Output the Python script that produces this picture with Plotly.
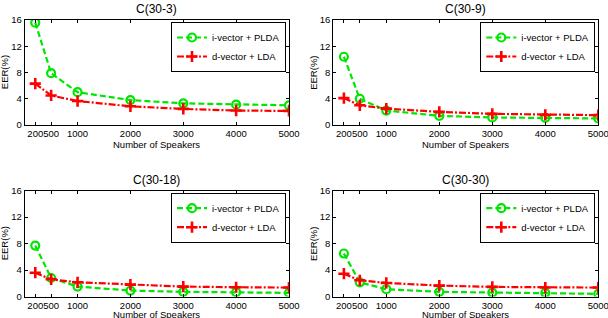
import plotly.graph_objects as go

speakers = [200, 500, 1000, 2000, 3000, 4000, 5000]
titles = ["C(30-3)", "C(30-9)", "C(30-18)", "C(30-30)"]
ivec = [
    [15.6, 7.9, 5.0, 3.8, 3.3, 3.1, 3.0],
    [10.4, 4.0, 2.2, 1.4, 1.15, 1.1, 1.0],
    [7.7, 2.8, 1.5, 0.9, 0.7, 0.65, 0.55],
    [6.5, 2.15, 1.1, 0.7, 0.6, 0.55, 0.4],
]
dvec = [
    [6.3, 4.5, 3.65, 2.85, 2.45, 2.2, 2.15],
    [4.1, 3.0, 2.5, 2.0, 1.7, 1.55, 1.5],
    [3.6, 2.6, 2.15, 1.8, 1.5, 1.4, 1.35],
    [3.45, 2.45, 2.05, 1.65, 1.45, 1.35, 1.35],
]
yticks = [0, 4, 8, 12, 16]
xticklabels = ["200", "500", "1000", "2000", "3000", "4000", "5000"]
xlabel = "Number of Speakers"
ylabel = "EER(%)"

W, H = 608, 318
xpx = [[24.7, 289], [333.3, 598.3]]
ypx = [[20, 125], [190.7, 296.5]]
xlab_off = [19.5, 18.0]
xdoms = [[a / W, b / W] for a, b in xpx]
ydoms = [[(H - b) / H, (H - a) / H] for a, b in ypx]

FONT = "Liberation Sans, Arial, sans-serif"
FS = 9.5
fig = go.Figure()
layout = dict(
    width=W, height=H, margin=dict(l=0, r=0, t=0, b=0, autoexpand=False),
    plot_bgcolor="white", paper_bgcolor="white",
    font=dict(family=FONT, size=FS, color="black"),
    annotations=[],
)

for i in range(4):
    r, c = divmod(i, 2)
    n = "" if i == 0 else str(i + 1)
    xa, ya = "x" + n, "y" + n
    leg = "legend" + n
    fig.add_trace(go.Scatter(
        x=speakers, y=ivec[i], name="i-vector + PLDA", xaxis=xa, yaxis=ya, legend=leg,
        mode="lines+markers",
        line=dict(color="#00e600", width=2.2, dash="6px,3px"),
        marker=dict(symbol="circle-open", size=8, color="#00e600", line=dict(width=2.2, color="#00e600")),
    ))
    fig.add_trace(go.Scatter(
        x=speakers, y=dvec[i], name="d-vector + LDA", xaxis=xa, yaxis=ya, legend=leg,
        mode="lines+markers",
        line=dict(color="#ff0000", width=2.2, dash="7px,2px,2px,2px"),
        marker=dict(symbol="cross-thin-open", size=8, color="#ff0000", line=dict(width=2.6, color="#ff0000")),
    ))
    axcommon = dict(showline=True, linecolor="black", linewidth=1, mirror="ticks",
                    ticks="inside", ticklen=3, tickcolor="black", showgrid=False, zeroline=False,
                    automargin=False, ticklabeloverflow="allow",
                    tickfont=dict(family=FONT, size=FS))
    layout["xaxis" + n] = dict(
        domain=xdoms[c], anchor=ya, range=[0, 5000],
        tickmode="array", tickvals=speakers, ticktext=xticklabels, tickangle=0,
        **axcommon)
    layout["yaxis" + n] = dict(
        domain=ydoms[r], anchor=xa, range=[0, 16],
        tickmode="array", tickvals=yticks,
        **axcommon)
    layout[leg] = dict(
        x=xdoms[c][1] - 3 / W, xanchor="right", y=ydoms[r][1] - 2 / H, yanchor="top",
        bgcolor="white", bordercolor="black", borderwidth=1,
        font=dict(family=FONT, size=FS), tracegroupgap=0, itemwidth=30,
    )
    cx = (xdoms[c][0] + xdoms[c][1]) / 2
    layout["annotations"] += [
        dict(text=titles[i], xref="paper", yref="paper",
             x=cx, y=ydoms[r][1] + 11 / H, xanchor="center", yanchor="middle", showarrow=False,
             font=dict(family=FONT, size=12, color="black")),
        dict(text=xlabel, xref="paper", yref="paper",
             x=cx, y=ydoms[r][0] - xlab_off[r] / H, xanchor="center", yanchor="middle", showarrow=False,
             font=dict(family=FONT, size=FS, color="black")),
        dict(text=ylabel, xref="paper", yref="paper", textangle=-90,
             x=xdoms[c][0] - 20 / W, y=(ydoms[r][0] + ydoms[r][1]) / 2,
             xanchor="center", yanchor="middle", showarrow=False,
             font=dict(family=FONT, size=FS, color="black")),
    ]

fig.update_layout(**layout)
fig.write_html("out.html", config={"displayModeBar": False},
               post_script="document.body.style.margin='0';document.body.style.overflow='hidden';")
